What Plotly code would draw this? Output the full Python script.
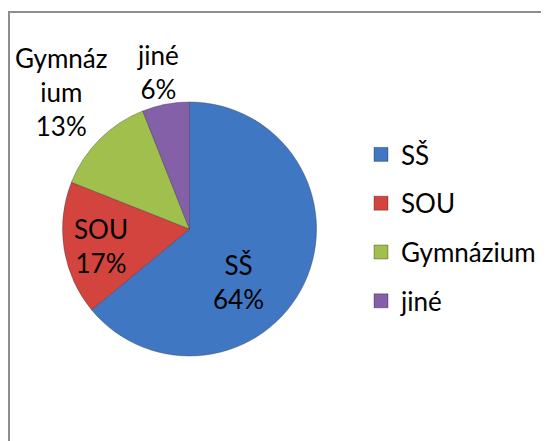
import plotly.graph_objects as go

categories = ["SŠ", "SOU", "Gymnázium", "jiné"]
label_text = ["SŠ", "SOU", "Gymnáz<br>ium", "jiné"]
values = [64, 17, 13, 6]
colors = ["#3f77c2", "#d4443f", "#a0bf4c", "#8360a8"]

W, H = 549, 441
OFF = 8  # page body margin in the browser
FONT = "Lato"
FS = 26

# label centres in window pixels (layout only)
label_px = [(238, 282), (101, 246), (61, 92), (158, 72)]

cx, cy, r = 189.5 - OFF, 229 - OFF, 127

fig = go.Figure()
fig.add_trace(go.Pie(
    labels=categories,
    values=values,
    textinfo="none",
    sort=False,
    direction="clockwise",
    rotation=0,
    marker=dict(colors=colors, line=dict(color="rgba(40,40,60,0.35)", width=1)),
    showlegend=False,
    hoverinfo="label+percent",
    domain=dict(x=[(cx - r) / W, (cx + r) / W], y=[(H - cy - r) / H, (H - cy + r) / H]),
))

total = sum(values)
annotations = []
for i, c in enumerate(categories):
    pct = round(100 * values[i] / total)
    px, py = label_px[i][0] - OFF, label_px[i][1] - OFF
    annotations.append(dict(
        text=f"{label_text[i]}<br>{pct}%",
        x=px / W, y=(H - py) / H,
        xref="paper", yref="paper", xanchor="center", yanchor="middle",
        showarrow=False, align="center",
        font=dict(family=FONT, size=FS, color="black"),
    ))

for i, c in enumerate(categories):
    fig.add_trace(go.Scatter(
        x=[None], y=[None], mode="markers", name=c,
        marker=dict(symbol="square", size=14, color=colors[i],
                    line=dict(color="rgba(0,0,0,0.3)", width=1)),
        legendgroup=c, showlegend=True,
    ))

fig.update_layout(
    width=W, height=H,
    margin=dict(l=0, r=0, t=0, b=0),
    paper_bgcolor="white", plot_bgcolor="white",
    font=dict(family=FONT, size=FS, color="black"),
    xaxis=dict(visible=False), yaxis=dict(visible=False),
    legend=dict(x=(361 - OFF) / W, y=(H - (131 - OFF)) / H, xanchor="left", yanchor="top",
                tracegroupgap=12, font=dict(family=FONT, size=FS, color="black"),
                bgcolor="rgba(0,0,0,0)", itemclick=False, itemdoubleclick=False),
    annotations=annotations,
    shapes=[dict(type="rect", xref="paper", yref="paper",
                 x0=1 / W, x1=1.02, y0=-0.02, y1=(H - (12 - OFF)) / H,
                 line=dict(color="#8e8e8e", width=2), fillcolor="rgba(0,0,0,0)", layer="below")],
)

fig.write_html("out.html")
